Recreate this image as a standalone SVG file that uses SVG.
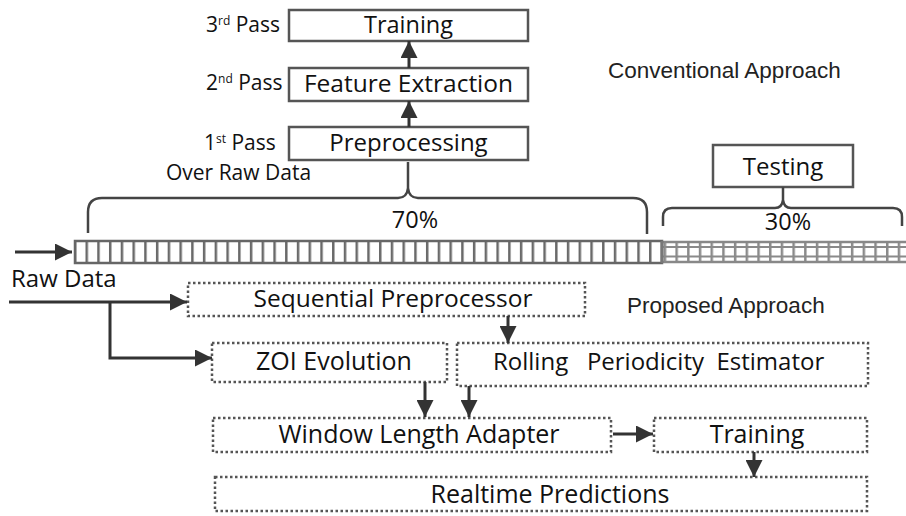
<svg xmlns="http://www.w3.org/2000/svg" width="906" height="516" viewBox="0 0 906 516">
<style>
.t{font-family:"Open Sans","Noto Sans",sans-serif;fill:#111;}
.h{font-family:"Liberation Sans",Arial,sans-serif;fill:#222;font-size:22.5px;}
.box{fill:#fff;stroke:#555;stroke-width:2.5;}
.dbox{fill:#fff;stroke:#555;stroke-width:2.5;stroke-dasharray:2.5 2.5;}
.ar{fill:none;stroke:#333;stroke-width:3;marker-end:url(#ah);}
.ln{fill:none;stroke:#333;stroke-width:3;}
.br{fill:none;stroke:#444;stroke-width:2.5;}
</style>
<defs>
<marker id="ah" markerUnits="userSpaceOnUse" markerWidth="18" markerHeight="17" refX="17" refY="8.5" orient="auto">
<path d="M0,0 L17,8.5 L0,17 z" fill="#333"/>
</marker>
<pattern id="tk" patternUnits="userSpaceOnUse" x="73.75" y="241" width="11.74" height="22">
<line x1="1.25" y1="0" x2="1.25" y2="22" stroke="#6a6a6a" stroke-width="2.5"/>
</pattern>
<pattern id="tk2" patternUnits="userSpaceOnUse" x="663.7" y="241" width="11.7" height="22">
<line x1="1.25" y1="0" x2="1.25" y2="22" stroke="#8a8a8a" stroke-width="2.5"/>
</pattern>
</defs>

<!-- Conventional approach -->
<g id="conv-training">
<rect class="box" x="289" y="10" width="239" height="31"/>
<text class="t" x="408.5" y="33" font-size="23.5" text-anchor="middle">Training</text>
</g>
<g id="conv-feature">
<rect class="box" x="289" y="68" width="239" height="33"/>
<text class="t" x="408.5" y="92" font-size="24.5" text-anchor="middle">Feature Extraction</text>
</g>
<g id="conv-preproc">
<rect class="box" x="289" y="127" width="239" height="33"/>
<text class="t" x="408.5" y="151" font-size="24" text-anchor="middle">Preprocessing</text>
</g>
<g id="pass-labels">
<text class="t" x="206" y="32" font-size="21">3<tspan font-size="12" dy="-7">rd</tspan><tspan dy="7"> Pass</tspan></text>
<text class="t" x="206" y="90" font-size="21">2<tspan font-size="12" dy="-7">nd</tspan><tspan dy="7"> Pass</tspan></text>
<text class="t" x="204" y="150" font-size="21">1<tspan font-size="12" dy="-7">st</tspan><tspan dy="7"> Pass</tspan></text>
<text class="t" x="166" y="180" font-size="21">Over Raw Data</text>
</g>
<g id="conv-label">
<text class="h" x="608" y="78">Conventional Approach</text>
</g>
<g id="testing">
<rect class="box" x="713" y="145" width="140" height="42"/>
<text class="t" x="783" y="175" font-size="24" text-anchor="middle">Testing</text>
</g>
<g id="pct">
<text class="t" x="415" y="228" font-size="23.5" text-anchor="middle">70%</text>
<text class="t" x="788" y="230" font-size="23.5" text-anchor="middle">30%</text>
</g>

<!-- data bar -->
<g id="data-bar">
<rect x="75" y="241" width="587" height="22" fill="url(#tk)" stroke="#666" stroke-width="2.5"/>
<rect x="662" y="241" width="250" height="22" fill="url(#tk2)"/>
<line x1="662" y1="242" x2="906" y2="242" stroke="#888" stroke-width="2.5"/>
<line x1="662" y1="247" x2="906" y2="247" stroke="#8a8a8a" stroke-width="2"/>
<line x1="662" y1="256.5" x2="906" y2="256.5" stroke="#8a8a8a" stroke-width="2"/>
<line x1="662" y1="262" x2="906" y2="262" stroke="#888" stroke-width="2.5"/>
<line x1="662" y1="241" x2="662" y2="263" stroke="#777" stroke-width="3"/>
</g>

<g id="raw-data-label">
<text class="t" x="11" y="287" font-size="24">Raw Data</text>
</g>

<!-- Proposed approach -->
<g id="sequential">
<rect class="dbox" x="188" y="283" width="397" height="33"/>
<text class="t" x="393" y="307" font-size="24.5" text-anchor="middle">Sequential Preprocessor</text>
</g>
<g id="prop-label">
<text class="h" x="627" y="313">Proposed Approach</text>
</g>
<g id="zoi">
<rect class="dbox" x="212" y="343" width="235" height="39"/>
<text class="t" x="334" y="370" font-size="25" text-anchor="middle">ZOI Evolution</text>
</g>
<g id="rolling">
<rect class="dbox" x="457" y="343" width="411" height="43"/>
<text class="t" x="493" y="370" font-size="24" style="white-space:pre" xml:space="preserve">Rolling   Periodicity  Estimator</text>
</g>
<g id="window">
<rect class="dbox" x="213" y="418" width="398" height="34"/>
<text class="t" x="419" y="443" font-size="25" text-anchor="middle">Window Length Adapter</text>
</g>
<g id="prop-training">
<rect class="dbox" x="654" y="418" width="213" height="34"/>
<text class="t" x="757" y="443" font-size="25" text-anchor="middle">Training</text>
</g>
<g id="realtime">
<rect class="dbox" x="215" y="477" width="652" height="34"/>
<text class="t" x="550" y="503" font-size="25" text-anchor="middle">Realtime Predictions</text>
</g>

<!-- connectors -->
<g id="connectors">
<line class="ar" x1="409" y1="127" x2="409" y2="101"/>
<line class="ar" x1="409" y1="68" x2="409" y2="41"/>
<path class="br" d="M88 233 V212 Q88 198 102 198 H398 Q407 198 408 188 V162 M408 188 Q409 198 418 198 H633 Q647 198 647 212 V234"/>
<path class="br" d="M663 226 V217 Q663 208 672 208 H775 Q782 208 783 200 V187 M783 200 Q784 208 791 208 H893 Q902 208 902 217 V226"/>
<line class="ar" x1="15" y1="252" x2="72" y2="252"/>
<line class="ar" x1="9" y1="302" x2="187" y2="302"/>
<polyline class="ar" points="110,302 110,358 212,358"/>
<line class="ar" x1="508" y1="316" x2="508" y2="343"/>
<line class="ar" x1="425" y1="382" x2="425" y2="417"/>
<line class="ar" x1="469" y1="386" x2="469" y2="417"/>
<line class="ar" x1="613" y1="434" x2="653" y2="434"/>
<line class="ar" x1="754" y1="452" x2="754" y2="477"/>
</g>
</svg>
